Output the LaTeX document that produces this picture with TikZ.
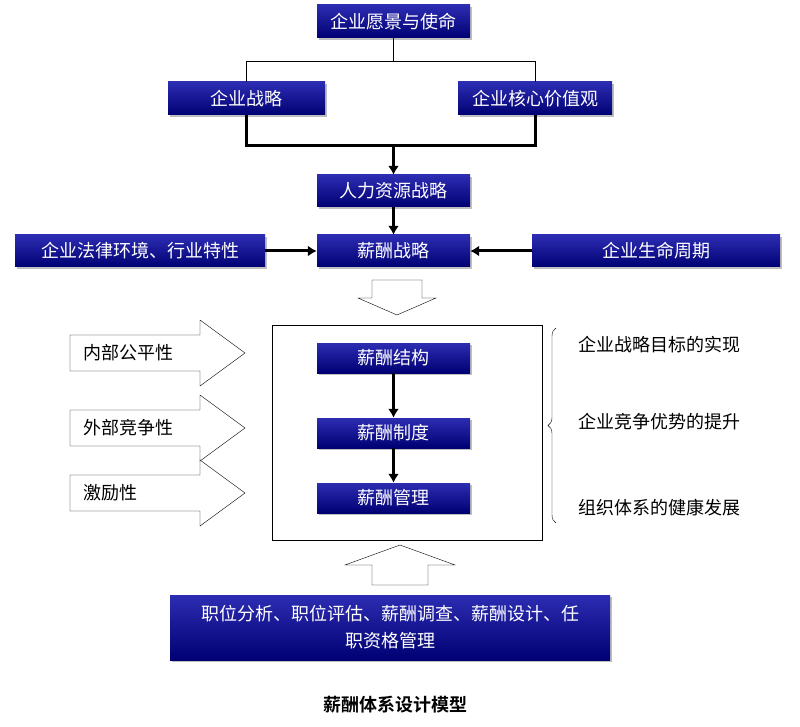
\documentclass[tikz,border=0pt]{standalone}
\usepackage{fontspec}
\setmainfont{Noto Sans CJK SC}
\newfontfamily\capfont{Noto Sans CJK SC Bold}
\usetikzlibrary{decorations.pathreplacing,shadows,arrows.meta}
\begin{document}
\begin{tikzpicture}[x=1pt,y=-1pt,
 bb/.style={draw=none,inner sep=0pt,text=white,font=\fontsize{18}{20}\selectfont,
   left color=blue!75!white!70!black,right color=blue!45!black,shading angle=0,
   drop shadow={shadow xshift=2pt,shadow yshift=-2pt,fill=gray!50,opacity=1}},
 tl/.style={font=\fontsize{18}{20}\selectfont},
 thick1/.style={line width=3pt},
 arr/.style={line width=3pt,-{Latex[length=9pt,width=11pt]}},
 hol/.style={draw,thin,fill=white}]
\useasboundingbox (0,0) rectangle (800,727);
\newcommand\bx[6]{\node[bb,minimum width=#4-#2,minimum height=#5-#3] (#1) at ({(#2+#4)/2},{(#3+#5)/2}) {#6};}
\bx{v}{317}{5}{470}{38}{企业愿景与使命}
\bx{s}{168}{82}{325}{115}{企业战略}
\bx{c}{458}{82}{612}{115}{企业核心价值观}
\bx{h}{317}{175}{470}{207}{人力资源战略}
\bx{x}{317}{235}{470}{267}{薪酬战略}
\bx{l}{15}{235}{265}{267}{企业法律环境、行业特性}
\bx{p}{532}{235}{780}{267}{企业生命周期}
\draw[thin] (v.south) -- ++(0,23) coordinate (m) -| (s.north);
\draw[thin] (m) -| (c.north);
\draw[thick1] (s.south) -- ++(0,30) coordinate (j1) -| (c.south);
\coordinate (j) at (j1 -| h.north);
\draw[arr] (j) -- (h.north);
\draw[arr] (h.south) -- (x.north);
\draw[arr] (l.east) -- (x.west);
\draw[arr] (p.west) -- (x.east);
% hollow down arrow
\draw[hol] (372,280) -- (422,280) -- (422,298) -- (436,298) -- (397,315) -- (358,298) -- (372,298) -- cycle;
\node[draw,thin,minimum width=270,minimum height=215,inner sep=0] (big) at (407,432.5) {};
\bx{a}{317}{343}{470}{373}{薪酬结构}
\bx{b}{317}{418}{470}{448}{薪酬制度}
\bx{cc}{317}{483}{470}{513}{薪酬管理}
\draw[arr] (a.south) -- (b.north);
\draw[arr] (b.south) -- (cc.north);
\foreach \n/\y/\t in {r1/353/内部公平性,r2/428/外部竞争性,r3/493/激励性}{
 \draw[hol] (70,\y-18) -- (200,\y-18) -- (200,\y-33) -- (245,\y) -- (200,\y+33) -- (200,\y+18) -- (70,\y+18) -- cycle;
 \node[tl,anchor=west] (\n t) at (80,\y) {\t};
}
\coordinate (b1) at (556,328);
\coordinate (b2) at (556,523);
\draw[thin,decorate,decoration={brace,amplitude=8pt}] (b2) -- (b1);
\node[tl,anchor=west] (t1) at (575,345) {企业战略目标的实现};
\node[tl,anchor=west] (t2) at (575,422) {企业竞争优势的提升};
\node[tl,anchor=west] (t3) at (575,508) {组织体系的健康发展};
\draw[hol] (400,545) -- (455,565) -- (428,565) -- (428,585) -- (372,585) -- (372,565) -- (345,565) -- cycle;
\node[bb,minimum width=440,minimum height=65,align=center,font=\fontsize{18}{27}\selectfont] (bot) at (390,627.5) {职位分析、职位评估、薪酬调查、薪酬设计、任\\职资格管理};
\node[font=\capfont\fontsize{18}{20}\selectfont] (cap) at (395,705) {薪酬体系设计模型};
\end{tikzpicture}
\end{document}
